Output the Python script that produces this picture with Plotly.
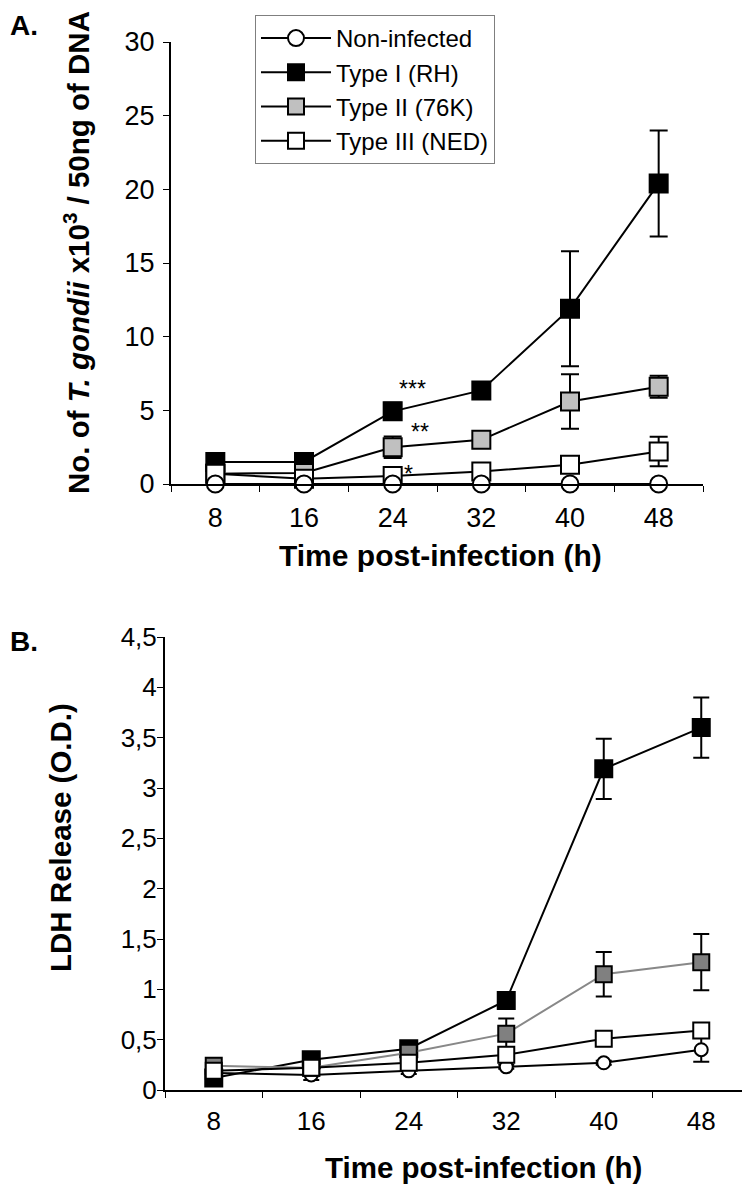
import plotly.graph_objects as go

times = ["8", "16", "24", "32", "40", "48"]

# Panel A: No. of T. gondii x10^3 / 50ng of DNA
a_noninf = [0, 0, 0, 0, 0, 0]
a_type1 = [1.5, 1.5, 4.93, 6.35, 11.9, 20.4]
a_type1_err = [0.2, 0.2, 0.58, 0.2, 3.9, 3.6]
a_type2 = [0.7, 0.75, 2.5, 3.0, 5.6, 6.6]
a_type2_err = [0.1, 0.1, 0.73, 0.4, 1.85, 0.75]
a_type3 = [0.7, 0.35, 0.55, 0.85, 1.3, 2.2]
a_type3_err = [0.1, 0.1, 0.1, 0.35, 0.45, 1.0]

# Panel B: LDH release (O.D.)
b_noninf = [0.17, 0.15, 0.19, 0.23, 0.27, 0.40]
b_noninf_err = [0.02, 0.05, 0.03, 0.02, 0.02, 0.12]
b_type1 = [0.12, 0.30, 0.41, 0.89, 3.19, 3.60]
b_type1_err = [0.03, 0.03, 0.03, 0.03, 0.30, 0.30]
b_type2 = [0.24, 0.22, 0.37, 0.56, 1.15, 1.27]
b_type2_err = [0.03, 0.03, 0.03, 0.15, 0.22, 0.28]
b_type3 = [0.19, 0.22, 0.27, 0.35, 0.51, 0.59]
b_type3_err = [0.02, 0.02, 0.02, 0.03, 0.03, 0.07]

a_ticks = [0, 5, 10, 15, 20, 25, 30]
b_ticks = [0, 0.5, 1, 1.5, 2, 2.5, 3, 3.5, 4, 4.5]
b_ticktext = ["0", "0,5", "1", "1,5", "2", "2,5", "3", "3,5", "4", "4,5"]

names = ["Non-infected", "Type I (RH)", "Type II (76K)", "Type III (NED)"]
stars = ["***", "**", "*"]
star_vals = [6.43, 3.55, 0.7]

FONT = "Arial, Liberation Sans, sans-serif"
# page has an 8px body margin; size the figure so it fits the 750x1187 window
OFF = 8
W, H = 750 - OFF, 1187 - OFF


def px(x):
    return (x - OFF) / W


def py(y):
    return 1 - (y - OFF) / H


fig = go.Figure()


def err(vals, thick=2, width=9):
    return dict(type="data", array=vals, visible=True, color="black",
                thickness=thick, width=width)


# ---- Panel A ----
a_specs = [
    (names[1], a_type1, a_type1_err, "square", "black", 1),
    (names[2], a_type2, a_type2_err, "square", "#c0c0c0", 2),
    (names[3], a_type3, a_type3_err, "square", "white", 3),
    (names[0], a_noninf, None, "circle", "white", 0),
]
for name, ys, e, sym, fill, rank in a_specs:
    fig.add_trace(go.Scatter(
        x=times, y=ys, name=name, mode="lines+markers",
        line=dict(color="black", width=2),
        marker=dict(symbol=sym, size=18 if sym == "square" else 17, color=fill,
                    line=dict(color="black", width=2)),
        error_y=err(e) if e else None,
        legendrank=rank, legendgroup=name, showlegend=True,
        xaxis="x", yaxis="y", cliponaxis=False,
    ))

# ---- Panel B ----
b_specs = [
    (names[0], b_noninf, b_noninf_err, "circle", "white", "black", 13),
    (names[1], b_type1, b_type1_err, "square", "black", "black", 17),
    (names[2], b_type2, b_type2_err, "square", "#808080", "#888888", 16),
    (names[3], b_type3, b_type3_err, "square", "white", "black", 16),
]
for name, ys, e, sym, fill, lc, sz in b_specs:
    fig.add_trace(go.Scatter(
        x=times, y=ys, name=name, mode="lines+markers",
        line=dict(color=lc, width=2),
        marker=dict(symbol=sym, size=sz, color=fill,
                    line=dict(color="black", width=2)),
        error_y=err(e, width=8),
        showlegend=False, xaxis="x2", yaxis="y2", cliponaxis=False,
    ))

axis_common = dict(showline=True, linecolor="black", linewidth=2,
                   ticks="outside", tickcolor="black", tickwidth=1,
                   showgrid=False, zeroline=False, mirror=False,
                   automargin=False)

fig.update_layout(
    template="none",
    width=W, height=H,
    margin=dict(l=0, r=0, t=0, b=0, pad=0, autoexpand=False),
    paper_bgcolor="white", plot_bgcolor="white",
    font=dict(family=FONT, color="black"),
    xaxis=dict(domain=[px(171), px(703)], type="category", tickson="boundaries",
               range=[-0.5, 5.5], ticklen=6, anchor="y", ticklabelstandoff=9,
               tickfont=dict(size=27), **axis_common),
    yaxis=dict(domain=[py(484), py(42)], range=[0, 30],
               tickvals=a_ticks, ticklen=6, anchor="x", ticklabelstandoff=3,
               tickfont=dict(size=27), **axis_common),
    xaxis2=dict(domain=[px(165), 1.0], type="category", tickson="boundaries",
                range=[-0.5, 5.5], ticklen=6, anchor="y2", ticklabelstandoff=7,
                tickfont=dict(size=26), **axis_common),
    yaxis2=dict(domain=[py(1090), py(637)], range=[0, 4.5],
                tickvals=b_ticks, ticktext=b_ticktext, ticklen=6, anchor="x2",
                ticklabelstandoff=-5,
                tickfont=dict(size=26), **axis_common),
    legend=dict(x=px(255), y=py(15), xanchor="left", yanchor="top",
                bordercolor="#7f7f7f", borderwidth=1, bgcolor="white",
                font=dict(family=FONT, size=24, color="black"),
                itemwidth=70, tracegroupgap=8, traceorder="normal"),
    showlegend=True,
)

ann = []
# panel labels
ann.append(dict(text="<b>A.</b>", x=0, y=1, xref="paper", yref="paper",
                xanchor="left", yanchor="top", showarrow=False,
                font=dict(size=28)))
ann.append(dict(text="<b>B.</b>", x=0, y=py(641), xref="paper", yref="paper",
                xanchor="left", yanchor="middle", showarrow=False,
                font=dict(size=28)))
# axis titles
ann.append(dict(text="<b>No. of <i>T. gondii</i> x10<sup>3</sup> / 50ng of DNA</b>",
                x=px(76), y=py(253), xref="paper", yref="paper",
                xanchor="center", yanchor="middle",
                textangle=-90, showarrow=False, font=dict(size=29.5)))
ann.append(dict(text="<b>Time post-infection (h)</b>", x=px(440), y=py(555),
                xref="paper", yref="paper", xanchor="center", yanchor="middle",
                showarrow=False, font=dict(size=30)))
ann.append(dict(text="<b>LDH Release (O.D.)</b>", x=px(60), y=py(838),
                xref="paper", yref="paper", xanchor="center", yanchor="middle",
                textangle=-90, showarrow=False, font=dict(size=29.5)))
ann.append(dict(text="<b>Time post-infection (h)</b>", x=px(483), y=py(1167),
                xref="paper", yref="paper", xanchor="center", yanchor="middle",
                showarrow=False, font=dict(size=29.5)))
# significance stars (at the 24 h category, index 2)
for txt, yv, xs in zip(stars, star_vals, [20, 27, 16]):
    ann.append(dict(text=txt, x=2, y=yv, xref="x", yref="y", xshift=xs,
                    xanchor="center", yanchor="middle",
                    showarrow=False, font=dict(size=23)))
fig.update_layout(annotations=ann)

fig.write_html("out.html")
